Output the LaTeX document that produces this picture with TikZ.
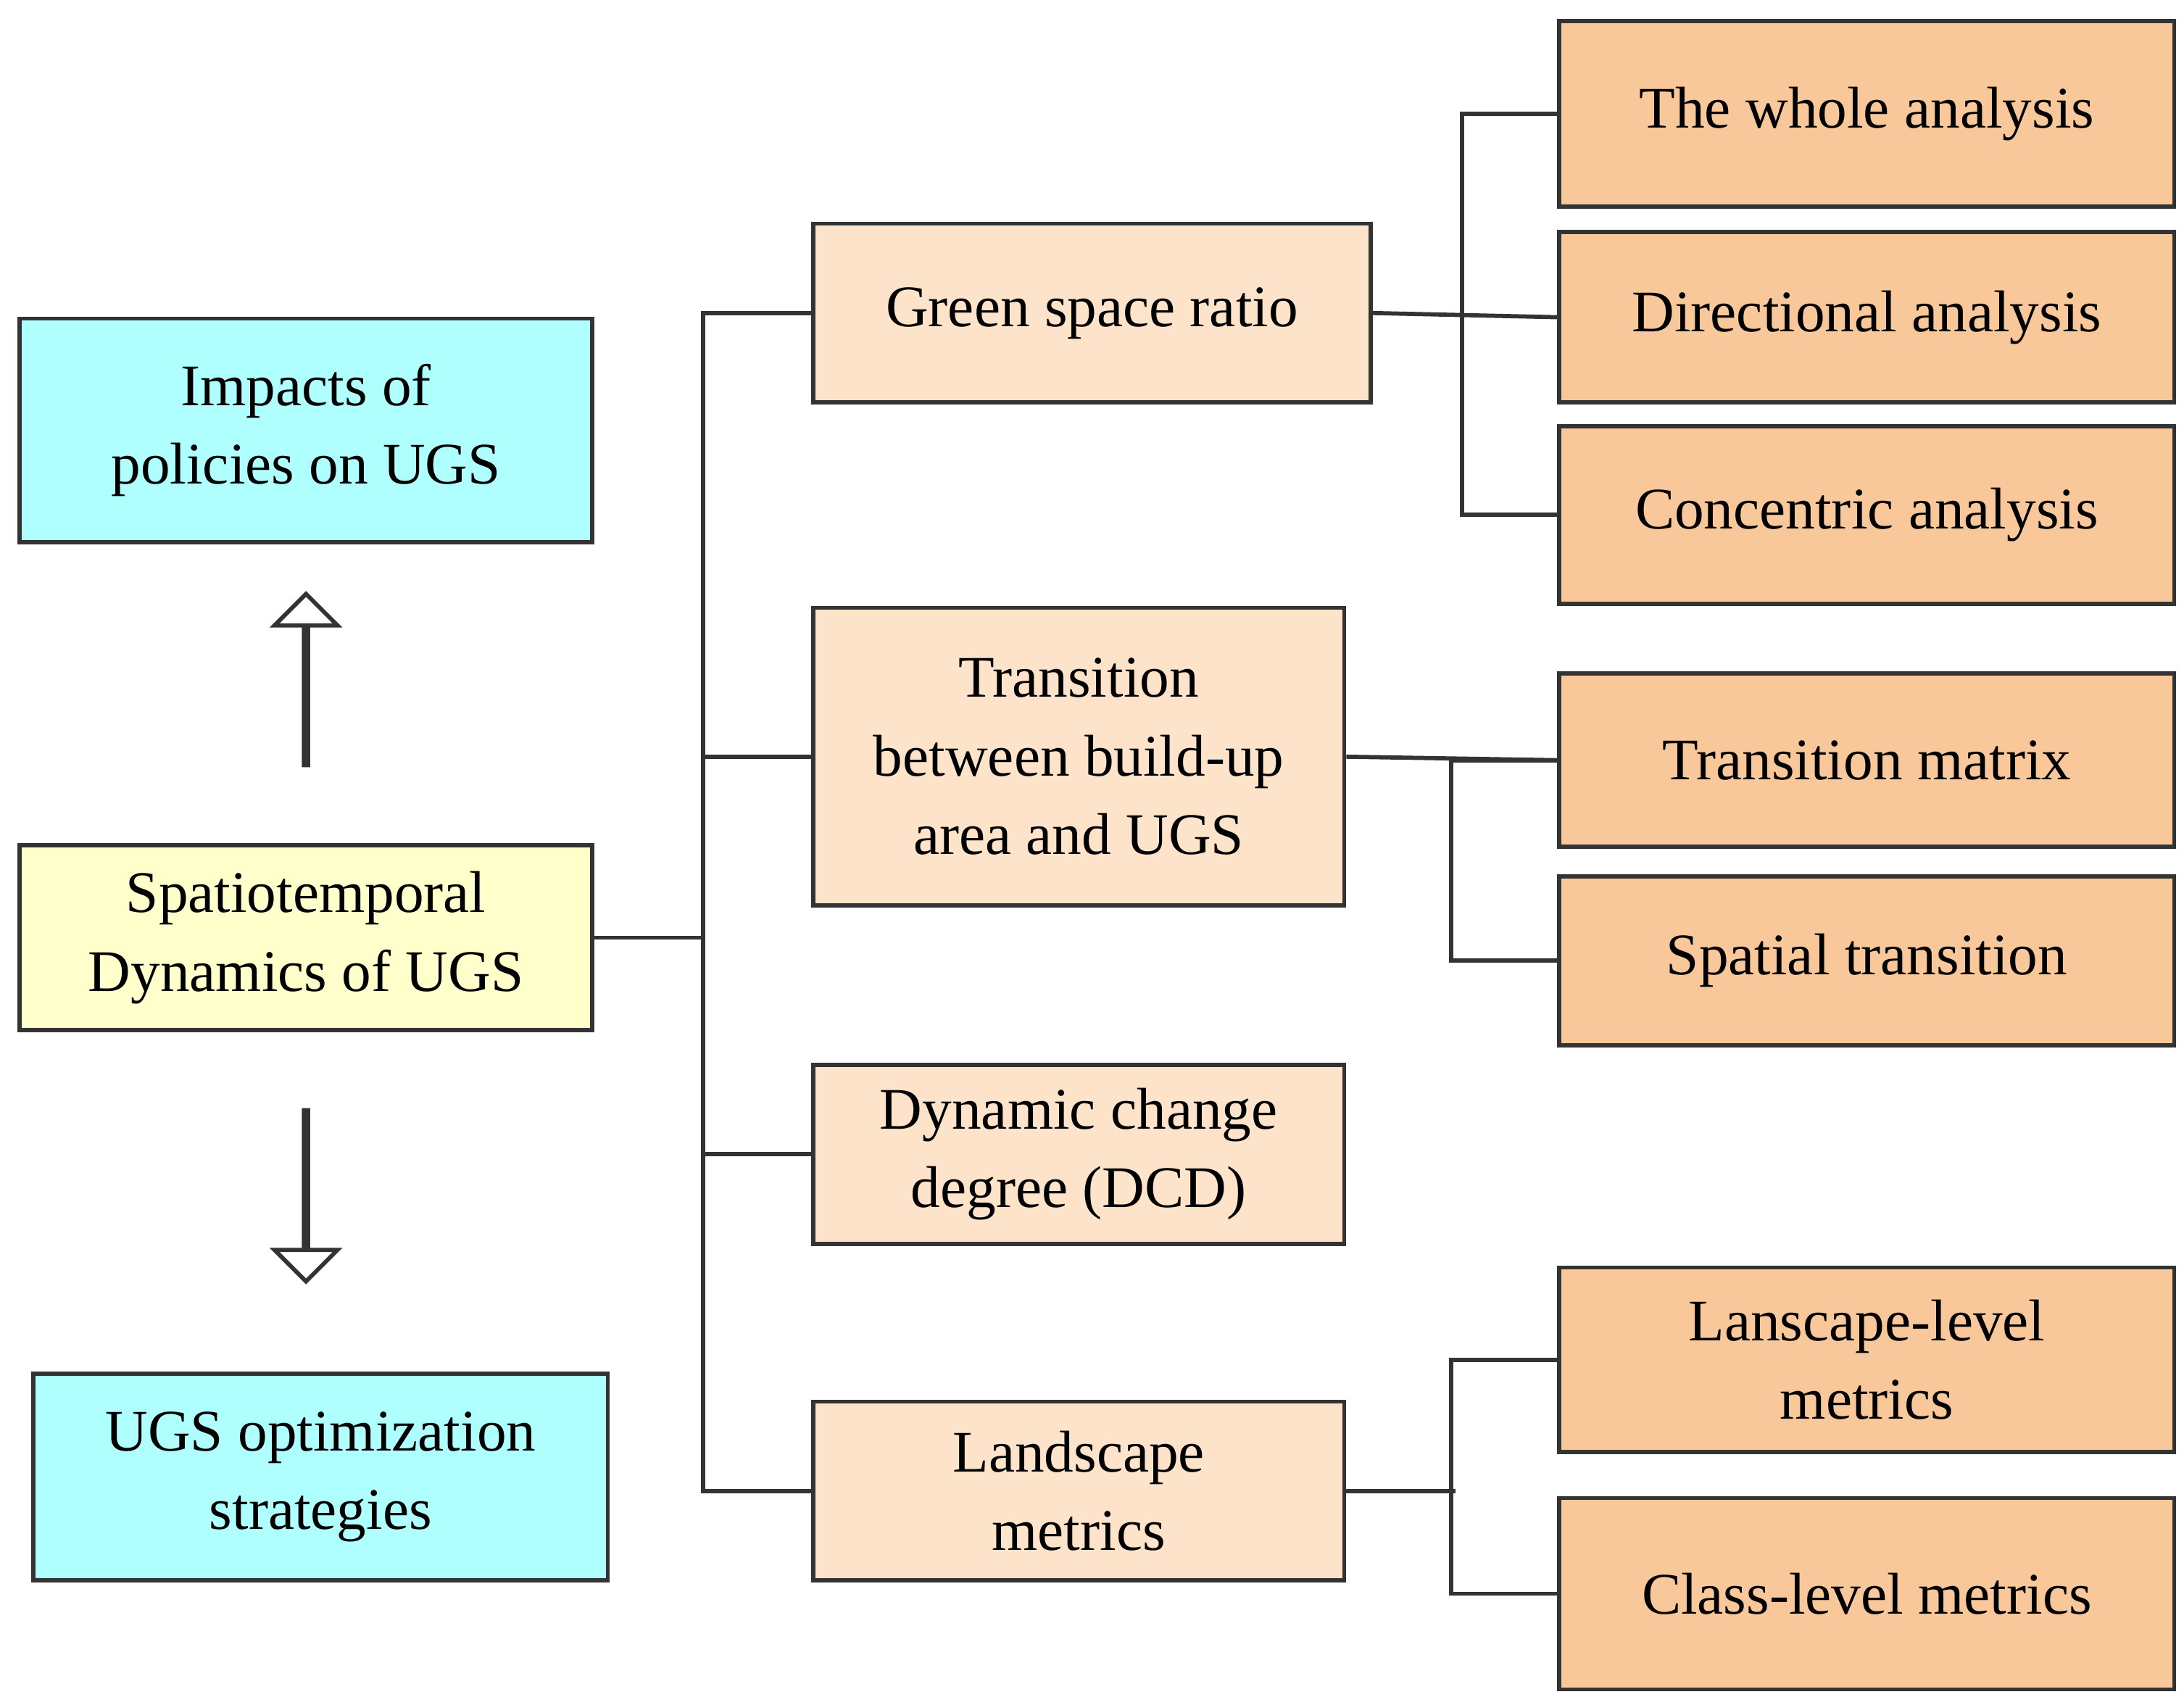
\documentclass[tikz,border=0pt]{standalone}
\usepackage{fontspec}
\setmainfont{Liberation Serif}
\usetikzlibrary{shapes.arrows}
\definecolor{cyanbox}{HTML}{AFFFFF}
\definecolor{yellowbox}{HTML}{FFFFCC}
\definecolor{lightorange}{HTML}{FDE3CA}
\definecolor{darkorange}{HTML}{F9C89A}
\definecolor{linegray}{HTML}{333333}
\tikzset{
	box/.style={draw=linegray, line width=1.7pt, align=center, inner sep=0pt,
		font=\fontsize{24}{32}\selectfont},
	size/.style 2 args={minimum width=#1*0.02cm, minimum height=#2*0.02cm},
	hollow/.style={draw=linegray, line width=1.7pt, fill=white, single arrow,
		single arrow head extend=0.42cm, minimum height=2.45cm, minimum width=0.6cm, inner sep=0pt},
	link/.style={draw=linegray, line width=1.7pt}
}
\begin{document}
\begin{tikzpicture}[x=0.02cm, y=-0.02cm]
	\useasboundingbox (0,0) rectangle (1563,1220);
	% left column
	\node [box, fill=cyanbox, size={410}{160}] (impacts) at (219,308) {Impacts of\\policies on UGS};
	\node [box, fill=yellowbox, size={410}{132}] (dyn) at (219,671) {Spatiotemporal\\Dynamics of UGS};
	\node [box, fill=cyanbox, size={411}{148}] (optim) at (229.5,1057) {UGS optimization\\strategies};
	\node [hollow, rotate=90] (up) at (219,487) {};
	\node [hollow, rotate=-90] (down) at (219,855) {};
	% middle column
	\node [box, fill=lightorange, size={399}{128}] (gsr) at (781.5,224) {Green space ratio};
	\node [box, fill=lightorange, size={380}{213}] (trans) at (772,541.5) {Transition\\between build-up\\area and UGS};
	\node [box, fill=lightorange, size={380}{128}] (dcd) at (772,826) {Dynamic change\\degree (DCD)};
	\node [box, fill=lightorange, size={380}{128}] (land) at (772,1067) {Landscape\\metrics};
	% right column
	\node [box, fill=darkorange, size={440}{133}] (whole) at (1336,81.5) {The whole analysis};
	\node [box, fill=darkorange, size={440}{122}] (direc) at (1336,227) {Directional analysis};
	\node [box, fill=darkorange, size={440}{127}] (conc) at (1336,368.5) {Concentric analysis};
	\node [box, fill=darkorange, size={440}{124}] (tmat) at (1336,544) {Transition matrix};
	\node [box, fill=darkorange, size={440}{121}] (spat) at (1336,687.5) {Spatial transition};
	\node [box, fill=darkorange, size={440}{132}] (lsl) at (1336,973) {Lanscape-level\\metrics};
	\node [box, fill=darkorange, size={440}{137}] (csl) at (1336,1140.5) {Class-level metrics};
	% connectors
	\draw [link] (dyn.east) -- (503,671);
	\draw [link] (gsr.west) -| (503,1067) -- (land.west);
	\draw [link] (trans.west) -- (503,541.5);
	\draw [link] (dcd.west) -- (503,826);
	\draw [link] (gsr.east) -- (direc.west);
	\draw [link] (whole.west) -- ++(-68,0) |- (conc.west);
	\draw [link] (trans.east) -- (tmat.west);
	\draw [link] (tmat.west) -- ++(-76,0) |- (spat.west);
	\draw [link] (land.east) -- ++(78,0);
	\draw [link] (lsl.west) -- ++(-76,0) |- (csl.west);
\end{tikzpicture}
\end{document}
